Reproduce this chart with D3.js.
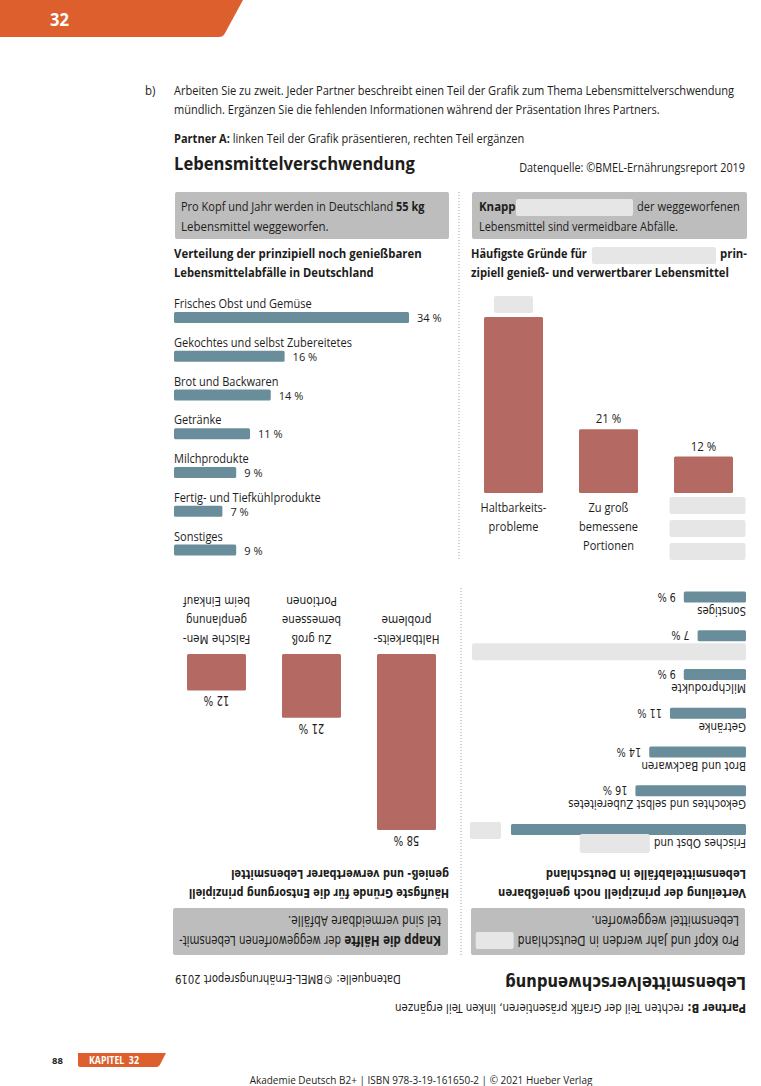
<!DOCTYPE html>
<html><head><meta charset="utf-8">
<script src="https://cdn.jsdelivr.net/npm/d3@7"></script>
<style>html,body{margin:0;padding:0;background:#fff;} svg{display:block;} text{white-space:pre;}</style>
</head><body>
<svg id="page" width="761" height="1086"></svg>
<script>
// ---------- data ----------
const foodCategories = ["Frisches Obst und Gemüse","Gekochtes und selbst Zubereitetes","Brot und Backwaren","Getränke","Milchprodukte","Fertig- und Tiefkühlprodukte","Sonstiges"];
const foodShares = [34,16,14,11,9,7,9];
const reasonCategories = [["Haltbarkeits-","probleme"],["Zu groß","bemessene","Portionen"],["Falsche Men-","genplanung","beim Einkauf"]];
const reasonShares = [58,21,12];
const wastePerCapita = "55 kg";
const avoidableShare = "die Hälfte";
const reasonsTopic = "die Entsorgung";
const sourceText = "Datenquelle: ©BMEL-Ernährungsreport 2019";
const chartTitle = "Lebensmittelverschwendung";

// ---------- style ----------
const ORANGE = "#dc5f2d", TEAL = "#6a8d9b", RED = "#b46a62", BOX = "#bdbdbd", BLANK = "#e6e6e6", INK = "#1d1d1b";
const REF = "'Open Sans', sans-serif";
const svg = d3.select("#page");

function measure(str, size, bold){
  const t = svg.append("text").attr("font-family",REF).attr("font-size",size).attr("font-weight",bold?700:400).text(str);
  const w = t.node().getComputedTextLength(); t.remove(); return w;
}
const COND = 178 / measure("Gekochtes und selbst Zubereitetes", 12, false);

function txt(parent, x, y, parts, o={}){
  const fam=o.fam||REF, anchor=o.anchor||"start", fill=o.fill||INK;
  const size=(o.size||12), drawSize = size*(o.zoom||1);
  if (typeof parts === "string") parts=[[parts,!!o.bold]];
  const g = parent.append("g");
  const t = g.append("text").attr("font-family",fam).attr("font-size",drawSize).attr("text-anchor",anchor).attr("fill",fill);
  parts.forEach(p=>t.append("tspan").attr("font-weight",p[1]?700:400).text(p[0]));
  const w = t.node().getComputedTextLength();
  let ref = w;
  if (fam !== REF || drawSize !== size){
    const r = g.append("text").attr("font-family",REF).attr("font-size",size);
    parts.forEach(p=>r.append("tspan").attr("font-weight",p[1]?700:400).text(p[0]));
    ref = r.node().getComputedTextLength(); r.remove();
  }
  const target = o.w || ref*(o.cond||COND);
  const sx = w>0 ? target/w : 1;
  g.attr("transform",`translate(${x},${y}) scale(${sx},1)`);
  return target;
}
function blank(parent, x, y, w, h){
  parent.append("rect").attr("x",x).attr("y",y).attr("width",w).attr("height",h).attr("rx",2).attr("fill",BLANK);
}

// ---------- header / footer ----------
svg.append("path").attr("d","M0,0 H243 L224.5,34 Q222.8,37 219,37 H0 Z").attr("fill",ORANGE);
txt(svg, 50, 26, "32", {size:18, bold:true, fill:"#fff", w:19});
txt(svg, 145, 95, "b)", {size:12.5});
txt(svg, 174, 95, "Arbeiten Sie zu zweit. Jeder Partner beschreibt einen Teil der Grafik zum Thema Lebensmittelverschwendung", {size:12.5, w:561});
txt(svg, 174, 114, "mündlich. Ergänzen Sie die fehlenden Informationen während der Präsentation Ihres Partners.", {size:12.5, w:486});

svg.append("text").attr("x",52).attr("y",1064).attr("font-family",REF).attr("font-size",9.5).attr("font-weight",700).attr("fill",INK).text("88");
svg.append("path").attr("d","M78,1053 H166 L159.8,1065 Q158.8,1067 156.5,1067 H80 Q78,1067 78,1065 Z").attr("fill",ORANGE);
txt(svg, 89, 1064, "KAPITEL  32", {size:10, bold:true, fill:"#fff", w:50});
txt(svg, 421, 1084, "Akademie Deutsch B2+ | ISBN 978-3-19-161650-2 | © 2021 Hueber Verlag", {size:11, anchor:"middle", w:343});

// ---------- one version of the graphic ----------
function drawVersion(root, v){
  const F = v.fam, Z = v.zoom || 1;
  const T = (x,y,parts,o={}) => txt(root, x, y, parts, Object.assign({fam:F, zoom:Z}, o));
  T(174, 143, [[v.partnerLabel,true],[v.partnerText,false]], {size:12, w:351});
  T(174, 170, chartTitle, {size:17, bold:true, w:241});
  T(745, 172, sourceText, {size:12, anchor:"end", w:226});

  // divider
  root.append("line").attr("x1",459).attr("x2",459).attr("y1",192).attr("y2",560)
    .attr("stroke","#a0a0a0").attr("stroke-width",1).attr("stroke-dasharray","1,2");

  // ---- left panel ----
  root.append("rect").attr("x",175).attr("y",192).attr("width",274).attr("height",47).attr("rx",2).attr("fill",BOX);
  if (v.hideKg){
    const w = T(181, 211, "Pro Kopf und Jahr werden in Deutschland", {size:12.5});
    blank(root, 181+w+4, 198, 38, 17);
  } else {
    T(181, 211, [["Pro Kopf und Jahr werden in Deutschland ",false],[wastePerCapita,true]], {size:12.5, w:244});
  }
  T(181, 231, "Lebensmittel weggeworfen.", {size:12.5});
  T(174, 258, "Verteilung der prinzipiell noch genießbaren", {size:12, bold:true, w:248});
  T(174, 277, "Lebensmittelabfälle in Deutschland", {size:12, bold:true, w:200});

  const y = d3.scaleBand().domain(d3.range(foodCategories.length)).range([296, 296+foodCategories.length*38.75]);
  const x = d3.scaleLinear().domain([0, d3.max(foodShares)]).range([0, 235]);
  foodCategories.forEach((c,i)=>{
    const top = y(i);
    root.append("rect").attr("x",174).attr("y",top+16).attr("width",x(foodShares[i])).attr("height",11).attr("rx",1.5).attr("fill",TEAL);
    if (v.hideFoodLabel === i){
      blank(root, 174, top-3, 274, 17);
    } else if (v.partialFoodLabel === i){
      const words = c.split(" ");
      const w = T(174, top+12, words.slice(0,-1).join(" "), {size:12});
      blank(root, 174+w+4, top-2, 70, 19);
    } else {
      T(174, top+12, c, {size:12});
    }
    const vx = 174 + x(foodShares[i]) + 8;
    if (v.hideFoodValue === i) blank(root, vx+2, top+12, 31, 17);
    else T(vx, top+26, foodShares[i] + " %", {size:11.5, cond:0.96});
  });

  // ---- right panel ----
  root.append("rect").attr("x",472).attr("y",192).attr("width",275).attr("height",47).attr("rx",2).attr("fill",BOX);
  if (v.hideAvoid){
    T(479, 211, "Knapp", {size:12.5, bold:true});
    blank(root, 516, 199, 117, 17);
    T(637, 211, "der weggeworfenen", {size:12.5, w:103});
    T(479, 231, "Lebensmittel sind vermeidbare Abfälle.", {size:12.5, w:199});
  } else {
    T(479, 211, [["Knapp " + avoidableShare,true],[" der weggeworfenen Lebensmit-",false]], {size:12.5, w:262});
    T(479, 231, "tel sind vermeidbare Abfälle.", {size:12.5});
  }
  if (v.hideTopic){
    T(471, 258, "Häufigste Gründe für", {size:12, bold:true, w:116});
    blank(root, 592, 247, 124, 17);
    T(747, 258, "prin-", {size:12, bold:true, anchor:"end", w:27});
    T(471, 277, "zipiell genieß- und verwertbarer Lebensmittel", {size:12, bold:true, w:258});
  } else {
    T(471, 258, "Häufigste Gründe für " + reasonsTopic + " prinzipiell", {size:12, bold:true, w:260});
    T(471, 277, "genieß- und verwertbarer Lebensmittel", {size:12, bold:true, w:218});
  }

  const xb = d3.scaleBand().domain(d3.range(reasonCategories.length)).range([466, 751]).paddingInner(36/95).paddingOuter(18/95);
  const yv = d3.scaleLinear().domain([0, d3.max(reasonShares)]).range([493, 317]);
  reasonCategories.forEach((lines,i)=>{
    const bx = xb(i), bw = xb.bandwidth(), cx = bx + bw/2, by = yv(reasonShares[i]);
    root.append("rect").attr("x",bx).attr("y",by).attr("width",bw).attr("height",yv(0)-by).attr("rx",1.5).attr("fill",RED);
    if (v.hideReasonValue === i) blank(root, cx-19.5, by-21, 39, 17);
    else T(cx, by-6, reasonShares[i] + " %", {size:12.5, anchor:"middle", cond:0.92});
    if (v.hideReasonLabel === i){
      lines.forEach((l,k)=>blank(root, cx-34, 497+k*23, 76, 17));
    } else {
      lines.forEach((l,k)=>T(cx, 512+k*19, l, {size:12, anchor:"middle"}));
    }
  });
}

// Partner A (upright)
drawVersion(svg.append("g"), {
  fam: REF, partnerLabel:"Partner A: ", partnerText:"linken Teil der Grafik präsentieren, rechten Teil ergänzen",
  hideAvoid:true, hideTopic:true, hideReasonValue:0, hideReasonLabel:2
});
// Partner B (rotated 180°)
drawVersion(svg.append("g").attr("transform","rotate(180,460,573.5)"), {
  fam: "'DejaVu Sans', sans-serif", zoom:1.07, partnerLabel:"Partner B: ", partnerText:"rechten Teil der Grafik präsentieren, linken Teil ergänzen",
  hideKg:true, partialFoodLabel:0, hideFoodValue:0, hideFoodLabel:5
});
</script>
</body></html>
